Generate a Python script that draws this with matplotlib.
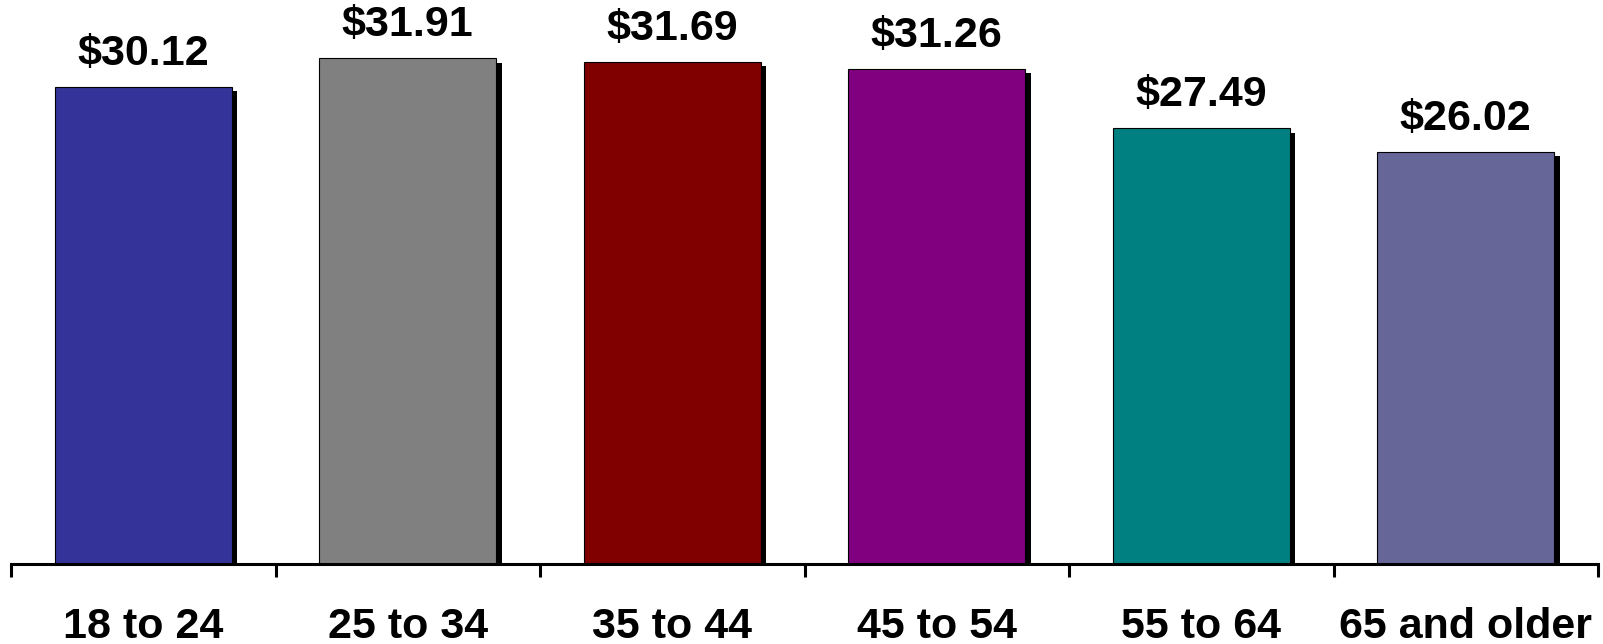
import matplotlib.pyplot as plt
import matplotlib.patheffects as pe
import numpy as np

# data
age_groups = ["18 to 24", "25 to 34", "35 to 44", "45 to 54", "55 to 64", "65 and older"]
amounts = [30.12, 31.91, 31.69, 31.26, 27.49, 26.02]
bar_colors = ["#333399", "#808080", "#800000", "#800080", "#008080", "#666699"]

plt.rcParams["font.family"] = ["Liberation Sans", "DejaVu Sans"]
plt.rcParams["font.weight"] = "bold"

fig = plt.figure(figsize=(16.03, 6.44), dpi=100)
ax = fig.add_axes([11 / 1603, 80 / 644, 1587 / 1603, 564 / 644])

x = np.arange(len(age_groups))
bars = ax.bar(x, amounts, width=0.67, color=bar_colors,
              edgecolor="black", linewidth=0.8, zorder=3)
for b in bars:
    b.set_path_effects([
        pe.SimplePatchShadow(offset=(4, -3), shadow_rgbFace="black", alpha=1.0),
        pe.Normal(),
    ])

for xi, val in zip(x, amounts):
    ax.annotate(f"${val:.2f}", (xi, val), xytext=(0, 16), textcoords="offset points",
                ha="center", va="baseline", fontsize=31, fontweight="bold")

ax.set_xlim(-0.5, len(age_groups) - 0.5)
ax.set_ylim(0, 35.6)

for side in ["left", "right", "top"]:
    ax.spines[side].set_visible(False)
ax.spines["bottom"].set_linewidth(2.2)
ax.spines["bottom"].set_zorder(5)

ax.set_yticks([])
ax.set_xticks(x)
ax.set_xticklabels(age_groups, fontsize=31, fontweight="bold")
ax.tick_params(axis="x", which="major", length=0, pad=31)
ax.set_xticks(np.arange(len(age_groups) + 1) - 0.5, minor=True)
ax.tick_params(axis="x", which="minor", length=9, width=2.2, direction="out")

fig.savefig("out.png", dpi=100)
